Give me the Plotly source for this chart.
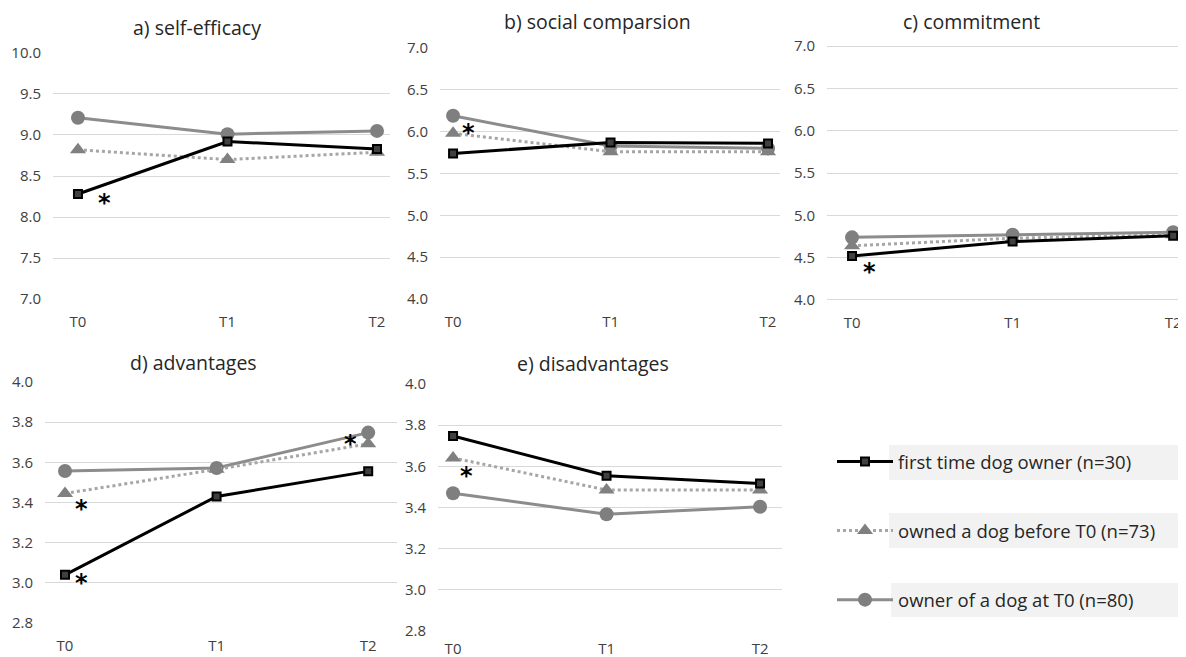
import plotly.graph_objects as go

times = ["T0", "T1", "T2"]
panel_titles = ["a) self-efficacy", "b) social comparsion", "c) commitment", "d) advantages", "e) disadvantages"]
series_names = ["first time dog owner (n=30)", "owned a dog before T0 (n=73)", "owner of a dog at T0 (n=80)"]

# values per panel: [first time, owned before, owner at T0]
self_efficacy = [[8.28, 8.92, 8.83], [8.82, 8.70, 8.79], [9.21, 9.01, 9.05]]
social_comparison = [[5.74, 5.87, 5.86], [5.98, 5.76, 5.76], [6.19, 5.83, 5.80]]
commitment = [[4.52, 4.69, 4.76], [4.64, 4.73, 4.77], [4.74, 4.77, 4.80]]
advantages = [[3.04, 3.43, 3.555], [3.445, 3.565, 3.692], [3.557, 3.572, 3.748]]
disadvantages = [[3.747, 3.554, 3.517], [3.641, 3.485, 3.485], [3.469, 3.367, 3.404]]
panels = [self_efficacy, social_comparison, commitment, advantages, disadvantages]

y_ranges = [(7.0, 10.0), (4.0, 7.0), (4.0, 7.0), (2.8, 4.0), (2.8, 4.0)]
y_dticks = [0.5, 0.5, 0.5, 0.2, 0.2]

# significance asterisks: panel index, x (category position), y
ast_panel = [0, 1, 2, 3, 3, 3, 4]
ast_x = [0.18, 0.10, 0.11, 0.11, 0.11, 1.88, 0.09]
ast_y = [8.25, 6.05, 4.40, 3.40, 3.03, 3.72, 3.58]

# page is shown with an 8px body margin: figure occupies window minus that offset
OFF = 8
W, H = 1186 - OFF, 657 - OFF


def px(x):
    return (x - OFF) / W


def py(y):
    return 1 - (y - OFF) / H


# plot-area geometry in window pixels (left, right, top, bottom)
plot_boxes = [(53, 390, 52, 300), (440, 780, 47, 300), (827, 1186, 45, 301),
              (45, 397, 381, 624), (438, 782, 383, 632)]
x_ranges = [(-0.167, 2.087), (-0.083, 2.076), (-0.156, 2.08), (-0.132, 2.19), (-0.098, 2.143)]
x_standoffs = [11, 11, 11, 11, 6]
title_pos = [(197, 27), (597, 22), (972, 22), (193, 362), (593, 363)]

styles = [
    dict(line=dict(color="#000000", width=3),
         marker=dict(symbol="square", size=8, color="#404040", line=dict(color="#000000", width=2))),
    dict(line=dict(color="#a6a6a6", width=3, dash="dot"),
         marker=dict(symbol="triangle-up", size=14, color="#808080")),
    dict(line=dict(color="#8c8c8c", width=3),
         marker=dict(symbol="circle", size=14, color="#7f7f7f")),
]
draw_order = [2, 1, 0]

fig = go.Figure()
tick_font = dict(family="Open Sans, sans-serif", size=15, color="#404040")

for p, data in enumerate(panels):
    ax = "" if p == 0 else str(p + 1)
    for s in draw_order:
        fig.add_trace(go.Scatter(
            x=[0, 1, 2], y=data[s], mode="lines+markers", name=series_names[s],
            xaxis="x" + ax, yaxis="y" + ax, legendgroup=str(s), showlegend=(p == 0),
            legendrank=s, cliponaxis=False, **styles[s]))
    lo, hi = y_ranges[p]
    pad = (hi - lo) * 0.004
    l, r, t, b = plot_boxes[p]
    fig.update_layout(**{
        "xaxis" + ax: dict(domain=[px(l), min(px(r), 1.0)], range=list(x_ranges[p]), tickvals=[0, 1, 2],
                           ticktext=times, showgrid=False, zeroline=False, showline=False,
                           automargin=False, anchor="y" + ax, tickfont=tick_font,
                           ticklabelstandoff=x_standoffs[p]),
        "yaxis" + ax: dict(domain=[py(b), py(t)], range=[lo - pad, hi + pad], dtick=y_dticks[p],
                           tick0=lo, tickformat=".1f", showgrid=True, gridcolor="#d9d9d9", gridwidth=1,
                           zeroline=False, showline=False, automargin=False, anchor="x" + ax,
                           tickfont=tick_font, ticklabelstandoff=11),
    })
    tx, ty = title_pos[p]
    fig.add_annotation(text=panel_titles[p], x=px(tx), y=py(ty), xref="paper", yref="paper",
                       xanchor="center", yanchor="middle", showarrow=False,
                       font=dict(family="Open Sans, sans-serif", size=19.5, color="#262626"))

for i in range(len(ast_panel)):
    ax = "" if ast_panel[i] == 0 else str(ast_panel[i] + 1)
    fig.add_annotation(text="<b>*</b>", x=ast_x[i], y=ast_y[i], xref="x" + ax, yref="y" + ax, showarrow=False,
                       xanchor="center", yanchor="middle", yshift=-6,
                       font=dict(family="DejaVu Sans, sans-serif", size=24, color="#000000"))

# gray boxes behind legend items
for (x0, y0, x1, y1) in [(889, 445, 1186, 480), (889, 513, 1186, 548), (891, 583, 1186, 617)]:
    fig.add_shape(type="rect", xref="paper", yref="paper", x0=px(x0), x1=min(px(x1), 1.0),
                  y0=py(y1), y1=py(y0), fillcolor="#f2f2f2", line=dict(width=0), layer="below")

fig.update_layout(
    width=W, height=H, margin=dict(l=0, r=0, t=0, b=0, autoexpand=False),
    paper_bgcolor="white", plot_bgcolor="white",
    legend=dict(x=px(832), y=py(443), xanchor="left", yanchor="top", bgcolor="rgba(0,0,0,0)",
                traceorder="grouped", tracegroupgap=42, itemwidth=56,
                font=dict(family="Open Sans, sans-serif", size=18.5, color="#262626")),
)

fig.write_html("out.html")
